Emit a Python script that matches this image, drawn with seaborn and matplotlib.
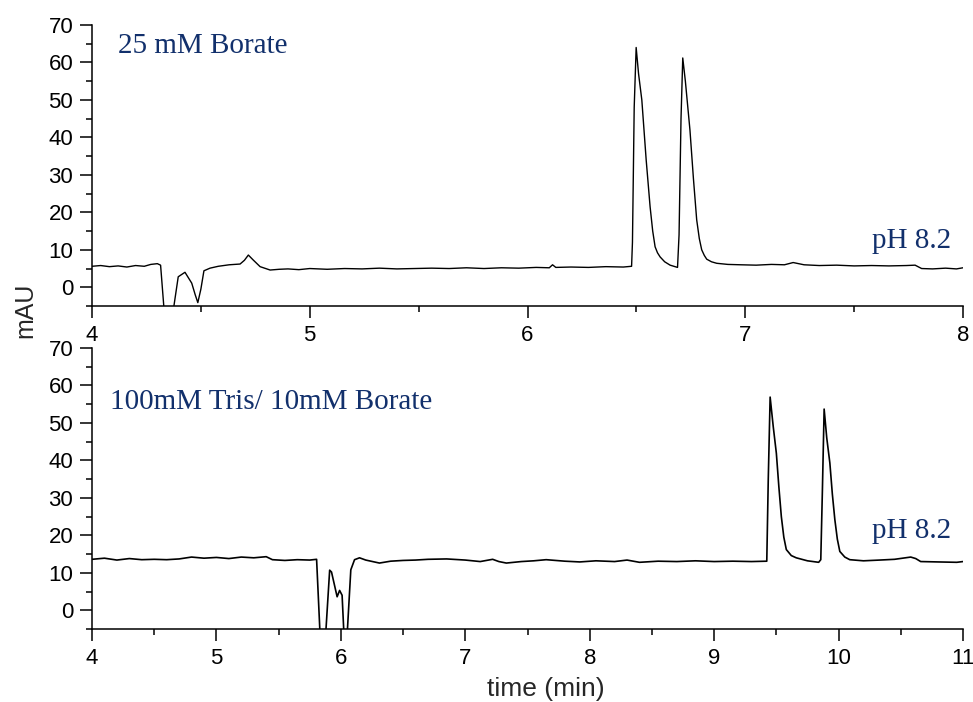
import matplotlib
matplotlib.use("Agg")
import matplotlib.pyplot as plt
from matplotlib.ticker import MultipleLocator
import pandas as pd
import seaborn as sns

# Electropherogram, 25 mM borate buffer (time in min, absorbance in mAU)
t_borate = [4.00, 4.04, 4.08, 4.12, 4.16, 4.20, 4.24, 4.27, 4.30, 4.315,
            4.335, 4.366, 4.396, 4.427, 4.458, 4.474, 4.486, 4.500, 4.514,
            4.542, 4.58, 4.63, 4.68, 4.70, 4.718, 4.74, 4.772, 4.818, 4.86,
            4.90, 4.95, 5.00, 5.08, 5.16, 5.24, 5.32, 5.40, 5.48, 5.56, 5.64,
            5.72, 5.80, 5.88, 5.96, 6.04, 6.10, 6.115, 6.13, 6.20, 6.28, 6.36,
            6.44, 6.478, 6.482, 6.490, 6.499, 6.510, 6.525, 6.545, 6.563,
            6.575, 6.586, 6.597, 6.609, 6.630, 6.655, 6.689, 6.696, 6.705,
            6.713, 6.725, 6.746, 6.762, 6.777, 6.789, 6.800, 6.812, 6.823,
            6.845, 6.869, 6.92, 6.98, 7.05, 7.12, 7.18, 7.22, 7.27, 7.34,
            7.42, 7.50, 7.58, 7.66, 7.74, 7.78, 7.81, 7.86, 7.92, 7.97, 8.00]
mau_borate = [5.6, 5.8, 5.5, 5.7, 5.4, 5.8, 5.6, 6.1, 6.3, 5.9,
              -9.0, -9.0, 2.8, 4.0, 1.1, -2.0, -4.1, -0.5, 4.4,
              5.1, 5.6, 6.0, 6.2, 7.2, 8.6, 7.3, 5.5, 4.6, 4.8,
              4.9, 4.7, 5.0, 4.8, 5.0, 4.9, 5.1, 4.9, 5.0, 5.1, 5.0,
              5.2, 5.0, 5.2, 5.1, 5.3, 5.2, 6.0, 5.3, 5.4, 5.3, 5.5,
              5.4, 5.6, 12.0, 48.0, 64.0, 57.0, 50.0, 34.0, 21.5,
              15.0, 10.8, 9.2, 8.1, 6.8, 5.9, 5.3, 14.0, 45.0,
              61.2, 55.0, 42.0, 29.0, 18.0, 13.0, 10.0, 8.5, 7.5,
              6.8, 6.4, 6.1, 6.0, 5.9, 6.1, 6.0, 6.6, 6.0, 5.8,
              5.9, 5.7, 5.8, 5.7, 5.8, 5.9, 5.0, 4.9, 5.1, 4.9, 5.2]

# Electropherogram, 100 mM Tris / 10 mM borate buffer
t_tris = [4.00, 4.10, 4.20, 4.30, 4.40, 4.50, 4.60, 4.70, 4.80, 4.90,
          5.00, 5.10, 5.20, 5.30, 5.40, 5.45, 5.55, 5.65, 5.75, 5.805,
          5.835, 5.875, 5.910, 5.925, 5.970, 5.990, 6.010, 6.027, 6.048,
          6.080, 6.110, 6.150, 6.20, 6.31, 6.40, 6.50, 6.60, 6.70, 6.85,
          7.00, 7.12, 7.22, 7.27, 7.33, 7.45, 7.55, 7.65, 7.80, 7.92,
          8.05, 8.20, 8.30, 8.40, 8.55, 8.70, 8.85, 9.00, 9.15, 9.30,
          9.423, 9.435, 9.450, 9.475, 9.500, 9.520, 9.540, 9.560, 9.580,
          9.620, 9.660, 9.750, 9.840, 9.857, 9.870, 9.884, 9.905, 9.930,
          9.950, 9.970, 9.990, 10.010, 10.050, 10.090, 10.20, 10.33,
          10.45, 10.58, 10.62, 10.66, 10.80, 10.95, 11.00]
mau_tris = [13.6, 13.9, 13.4, 13.8, 13.5, 13.6, 13.5, 13.7, 14.2, 13.9,
            14.1, 13.8, 14.2, 14.0, 14.3, 13.5, 13.3, 13.5, 13.4, 13.6,
            -8.0, -8.0, 10.7, 10.2, 3.6, 5.3, 4.0, -8.0, -8.0,
            10.8, 13.5, 14.0, 13.4, 12.6, 13.1, 13.3, 13.4, 13.6, 13.7,
            13.4, 13.0, 13.6, 13.0, 12.6, 13.0, 13.2, 13.5, 13.1, 12.9,
            13.2, 13.0, 13.4, 12.8, 13.1, 13.0, 13.2, 13.0, 13.1, 13.0,
            13.1, 35.0, 56.9, 49.0, 41.9, 33.0, 25.0, 19.5, 16.2,
            14.6, 14.0, 13.2, 12.8, 13.5, 32.0, 53.7, 46.0, 39.3,
            31.0, 24.2, 19.0, 15.7, 14.2, 13.5, 13.2, 13.4,
            13.6, 14.2, 13.8, 13.0, 12.9, 12.8, 13.0]

panel_titles = ["25 mM Borate", "100mM Tris/ 10mM Borate"]
ph_label = "pH 8.2"
y_ticks = [0, 10, 20, 30, 40, 50, 60, 70]
x_ticks_top = [4, 5, 6, 7, 8]
x_ticks_bottom = [4, 5, 6, 7, 8, 9, 10, 11]

sns.set_style("ticks")
plt.rcParams["font.family"] = ["Liberation Sans", "DejaVu Sans"]

W, H = 973, 702
fig = plt.figure(figsize=(W / 100, H / 100), dpi=100)
ax_top = fig.add_axes([92 / W, 1 - 306 / H, 871 / W, 281 / H])
ax_bot = fig.add_axes([92 / W, 1 - 629 / H, 871 / W, 281 / H])

navy = "#12306c"
serif = ["Liberation Serif", "DejaVu Serif"]

df_top = pd.DataFrame({"time": t_borate, "mAU": mau_borate})
df_bot = pd.DataFrame({"time": t_tris, "mAU": mau_tris})

sns.lineplot(data=df_top, x="time", y="mAU", ax=ax_top, color="black",
             linewidth=1.0, estimator=None)
sns.lineplot(data=df_bot, x="time", y="mAU", ax=ax_bot, color="black",
             linewidth=1.2, estimator=None)

for ax, xt in ((ax_top, x_ticks_top), (ax_bot, x_ticks_bottom)):
    ax.set_xlim(xt[0], xt[-1])
    ax.set_ylim(-5, 70)
    ax.set_xticks(xt)
    ax.set_xticklabels([str(v) for v in xt])
    ax.set_yticks(y_ticks)
    ax.set_yticklabels([str(v) for v in y_ticks])
    ax.xaxis.set_minor_locator(MultipleLocator(0.5))
    ax.yaxis.set_minor_locator(MultipleLocator(5))
    ax.tick_params(which="major", direction="out", length=8.5, width=1.1,
                   labelsize=16, pad=5, color="black", labelcolor="black")
    ax.tick_params(which="minor", direction="out", length=4.3, width=1.1,
                   color="black")
    for side in ("left", "bottom"):
        ax.spines[side].set_linewidth(1.1)
        ax.spines[side].set_color("black")
    sns.despine(ax=ax)
    ax.set_xlabel("")
    ax.set_ylabel("")
    ax.patch.set_alpha(0)

ax_top.text(4.12, 62.5, panel_titles[0], color=navy, fontsize=21,
            family=serif, ha="left", va="baseline")
ax_top.text(7.58, 10.6, ph_label, color=navy, fontsize=21,
            family=serif, ha="left", va="baseline")
ax_bot.text(4.145, 53.7, panel_titles[1], color=navy, fontsize=21,
            family=serif, ha="left", va="baseline")
ax_bot.text(10.27, 19.3, ph_label, color=navy, fontsize=21,
            family=serif, ha="left", va="baseline")

fig.text(25 / W, 1 - 310 / H, "mAU", rotation=90, fontsize=18,
         ha="center", va="center")
fig.text(546 / W, 1 - 689 / H, "time (min)", fontsize=19,
         ha="center", va="center")

fig.savefig("out.png", dpi=100, facecolor="white")
